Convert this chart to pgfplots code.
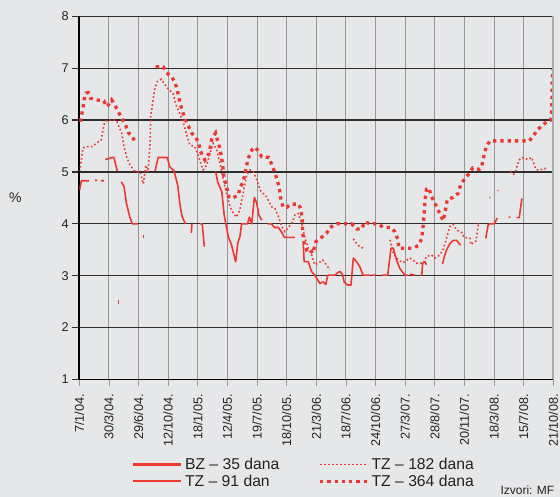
\documentclass[border=0pt]{standalone}
\usepackage{fontspec}
\setmainfont{Liberation Sans}
\usepackage{pgfplots}
\pgfplotsset{compat=1.18}
\definecolor{bg}{RGB}{230,231,233}
\definecolor{ser}{RGB}{236,56,48}
\definecolor{hgrid}{RGB}{45,45,45}
\definecolor{vgrid}{RGB}{150,150,150}
\definecolor{txt}{RGB}{35,35,35}

\begin{document}
\begin{tikzpicture}
\fill[bg] (-79.3bp,-117.6bp) rectangle (480.7bp,379.4bp);
\begin{axis}[
  scale only axis, width=474bp, height=363bp,
  xmin=0, xmax=16, ymin=1, ymax=8,
  xtick={0,...,16}, ytick={1,...,8},
  xticklabels={7/1/04.,30/3/04.,29/6/04.,12/10/04.,18/1/05.,12/4/05.,19/7/05.,18/10/05.,21/3/06.,18/7/06.,24/10/06.,27/3/07.,28/8/07.,20/11/07.,18/3/08.,15/7/08.,21/10/08.},
  xticklabel style={rotate=90, anchor=east, font=\fontsize{12.7bp}{14bp}\selectfont, text=txt},
  xticklabel shift=4bp,
  yticklabel style={font=\fontsize{12.7bp}{14bp}\selectfont, text=txt},
  /pgf/number format/assume math mode=true,
  axis lines*=left,
  axis line style={black, line width=1.7bp},
  tick align=outside, major tick length=7bp,
  xtick style={vgrid, line width=0.8bp},
  ytick style={hgrid, line width=1.3bp},
  xmajorgrids, ymajorgrids,
  x grid style={vgrid, line width=0.9bp},
  y grid style={hgrid, line width=1.3bp},
  unbounded coords=jump,
  legend columns=2,
  legend cell align=left,
  legend image code/.code={\draw[ser,#1] (0bp,0bp) -- (48bp,0bp);},
  legend style={draw=none, fill=none, at={(0.104,-0.205)}, anchor=north west,
    font=\fontsize{15.7bp}{18bp}\selectfont, text=txt,
    /tikz/every even column/.append style={column sep=37bp}},
]
\addplot[ser, line width=3.3bp] table {
x y
1.29 2.49
1.33 2.49
1.34 nan
2.15 3.75
2.19 3.75
};
\addlegendentry{BZ – 35 dana}

\addplot[ser, line width=1.6bp, dash pattern=on 1.6bp off 2.4bp] table {
x y
0.01 5.01
0.07 5.23
0.12 5.46
0.24 5.49
0.46 5.49
0.57 5.55
0.74 5.62
0.80 5.81
0.86 5.97
0.97 6.00
1.19 6.00
1.27 5.97
1.43 5.75
1.51 5.49
1.60 5.29
1.71 5.13
1.88 5.01
2.05 5.01
2.16 4.77
2.25 5.13
2.32 5.00
2.39 5.56
2.41 6.07
2.49 6.39
2.54 6.58
2.63 6.74
2.77 6.79
2.86 6.71
2.99 6.61
3.16 6.52
3.27 6.29
3.39 6.13
3.50 5.97
3.61 5.75
3.73 5.52
3.89 5.49
4.01 5.33
4.12 5.13
4.18 5.04
4.30 5.13
4.41 5.36
4.52 5.55
4.64 5.42
4.75 5.17
4.86 4.85
4.97 4.59
5.09 4.33
5.20 4.20
5.31 4.13
5.42 4.27
5.53 4.59
5.65 4.94
5.76 5.04
5.87 5.01
5.99 4.85
6.10 4.65
6.32 4.52
6.49 4.33
6.60 4.30
6.72 4.14
6.83 3.95
6.94 3.85
7.17 4.01
7.28 4.17
7.39 4.20
7.51 4.01
7.62 3.72
7.73 3.53
7.84 3.40
7.95 3.21
8.09 3.25
8.22 3.30
8.39 3.17
8.45 3.11
8.46 nan
9.25 3.71
9.36 3.62
9.45 3.57
9.58 3.53
9.59 nan
10.49 3.69
10.60 3.43
10.77 3.30
10.93 3.25
11.16 3.34
11.27 3.30
11.39 3.24
11.61 3.24
11.72 3.37
11.89 3.40
12.00 3.34
12.17 3.40
12.28 3.50
12.51 3.95
12.62 3.99
12.74 3.88
12.85 3.85
12.94 3.82
12.98 3.74
13.19 3.72
13.21 3.60
13.39 3.67
13.47 3.99
13.48 nan
13.84 4.51
13.88 4.51
13.89 nan
14.11 4.64
14.15 4.64
14.16 nan
14.54 5.02
14.67 4.96
14.74 5.03
14.78 5.13
14.85 5.23
14.93 5.28
15.15 5.24
15.27 5.28
15.38 5.10
15.44 5.04
15.55 5.04
15.72 5.07
15.77 5.02
};
\addlegendentry{TZ – 182 dana}

\addplot[ser, line width=1.6bp, line join=round] table {
x y
0.01 4.65
0.07 4.83
0.33 4.83
0.34 nan
0.53 4.84
0.60 4.84
0.61 nan
0.73 4.83
0.83 4.83
0.84 nan
0.88 5.24
1.11 5.28
1.17 5.28
1.28 5.02
1.29 nan
1.42 4.81
1.51 4.72
1.59 4.40
1.70 4.14
1.79 4.00
1.98 4.00
1.99 nan
2.56 5.02
2.66 5.28
2.97 5.28
3.05 5.10
3.20 5.02
3.33 4.72
3.39 4.40
3.47 4.14
3.58 4.00
3.59 nan
3.80 4.00
3.78 3.82
3.79 nan
4.08 4.00
4.15 4.00
4.22 3.56
4.23 nan
4.60 5.01
4.67 4.81
4.81 4.62
4.89 4.17
5.03 3.75
5.14 3.59
5.28 3.27
5.35 3.63
5.42 3.75
5.48 4.00
5.68 4.00
5.74 4.13
5.82 4.00
5.91 4.51
5.99 4.40
6.06 4.17
6.16 4.07
6.17 nan
6.36 4.00
6.49 4.00
6.58 3.93
6.72 3.93
6.85 3.82
6.92 3.74
7.28 3.74
7.29 nan
7.56 3.63
7.59 3.27
7.73 3.27
7.84 3.08
7.95 3.01
8.12 2.85
8.23 2.88
8.32 2.83
8.38 2.99
8.40 3.01
8.63 3.01
8.72 3.06
8.80 3.08
8.88 3.03
8.94 2.88
9.06 2.82
9.17 2.82
9.25 3.34
9.36 3.27
9.47 3.17
9.58 3.01
9.81 3.01
9.82 nan
9.87 3.01
10.01 3.01
10.02 nan
10.21 3.01
10.41 3.01
10.52 3.53
10.60 3.53
10.71 3.30
10.82 3.14
10.99 3.01
11.10 3.01
11.11 nan
11.16 3.03
11.33 3.01
11.34 nan
11.51 3.01
11.56 3.01
11.59 3.24
11.67 3.27
11.72 3.21
11.73 nan
12.26 3.23
12.34 3.40
12.40 3.50
12.51 3.62
12.62 3.68
12.74 3.68
12.82 3.62
12.88 3.59
12.89 nan
13.45 4.00
13.49 4.00
13.50 nan
13.72 3.72
13.80 3.98
13.86 4.00
14.00 4.00
14.11 4.11
14.12 nan
14.49 4.13
14.55 4.13
14.56 nan
14.76 4.12
14.85 4.12
14.94 4.49
};
\addlegendentry{TZ – 91 dan}

\addplot[ser, line width=3.3bp, dash pattern=on 3.3bp off 4bp] table {
x y
0.02 5.97
0.08 6.10
0.13 6.26
0.16 6.39
0.23 6.52
0.30 6.53
0.38 6.42
0.59 6.39
0.83 6.37
0.92 6.26
0.98 6.29
1.09 6.39
1.20 6.29
1.43 6.04
1.57 5.89
1.65 5.76
1.80 5.68
1.90 5.54
1.91 nan
2.58 7.03
2.83 7.03
2.95 6.91
3.12 6.84
3.23 6.72
3.31 6.58
3.36 6.43
3.42 6.29
3.49 6.16
3.57 6.02
3.68 5.89
3.79 5.75
3.93 5.67
4.04 5.55
4.07 5.42
4.24 5.23
4.38 5.36
4.47 5.63
4.60 5.75
4.67 5.60
4.75 5.44
4.83 5.18
4.89 4.88
4.97 4.72
5.05 4.52
5.14 4.49
5.25 4.52
5.37 4.56
5.42 4.69
5.53 4.81
5.59 4.96
5.65 5.13
5.70 5.26
5.84 5.44
5.91 5.48
6.02 5.42
6.16 5.29
6.40 5.28
6.49 5.15
6.58 5.02
6.66 4.88
6.74 4.72
6.81 4.46
6.88 4.32
7.01 4.32
7.14 4.38
7.41 4.38
7.48 4.27
7.53 4.07
7.54 3.83
7.59 3.62
7.67 3.50
7.76 3.53
7.88 3.43
7.99 3.66
8.18 3.74
8.35 3.82
8.46 3.93
8.69 4.00
8.94 4.00
9.19 4.00
9.36 3.90
9.53 3.90
9.64 4.04
9.81 4.00
10.09 4.00
10.26 3.93
10.52 3.93
10.65 3.85
10.75 3.70
10.79 3.53
10.99 3.53
11.27 3.53
11.46 3.59
11.56 3.72
11.61 3.98
11.64 4.17
11.67 4.46
11.72 4.67
11.80 4.69
11.89 4.52
12.00 4.41
12.10 4.27
12.17 4.20
12.28 4.06
12.34 4.20
12.38 4.33
12.42 4.47
12.62 4.51
12.79 4.59
12.87 4.75
13.02 4.88
13.16 4.97
13.28 5.08
13.50 5.05
13.58 5.10
13.63 5.24
13.69 5.39
13.75 5.50
13.86 5.60
15.19 5.60
15.32 5.69
15.46 5.81
15.61 5.89
15.83 5.99
15.91 6.00
15.94 6.13
15.96 6.42
15.96 6.71
15.98 6.98
};
\addlegendentry{TZ – 364 dana}
\end{axis}
\draw[vgrid!80, line width=2.2bp] (474bp,0bp) -- (474bp,363bp);
\node[font=\fontsize{14bp}{16bp}\selectfont, text=txt] at (-64bp,181.4bp) {\%};
\node[anchor=base west, inner sep=0pt, font=\fontsize{12bp}{14bp}\selectfont, text=txt] at (421bp,-114.6bp) {Izvori: MF};
\pgfresetboundingbox
\path[use as bounding box] (-79.3bp,-117.6bp) rectangle (480.7bp,379.4bp);
\end{tikzpicture}
\end{document}
